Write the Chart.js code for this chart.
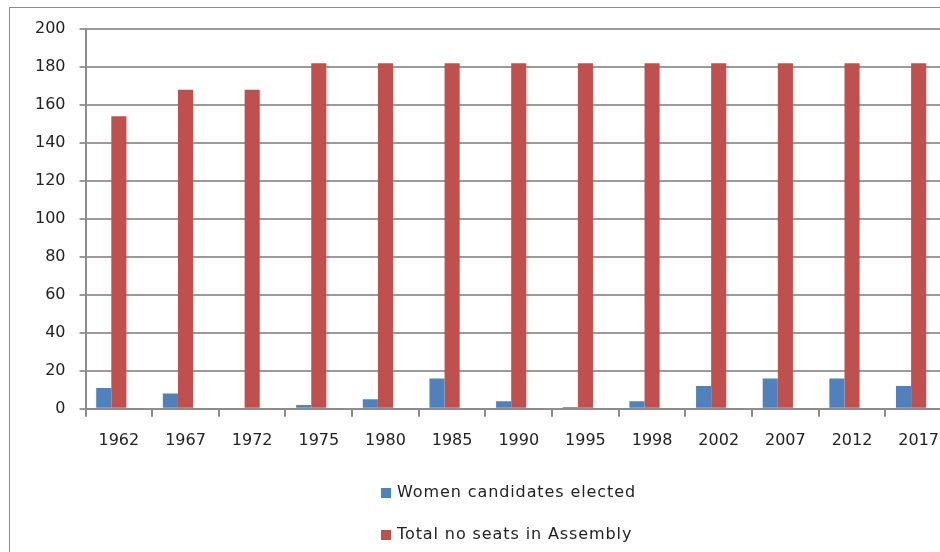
<!DOCTYPE html>
<html>
<head>
<meta charset="utf-8">
<script src="https://cdn.jsdelivr.net/npm/chart.js@4/dist/chart.umd.min.js"></script>
<style>
  html, body { margin: 0; padding: 0; background: #fff; overflow: hidden; }
  #wrap { position: relative; width: 940px; height: 552px; overflow: hidden; }
  #frame { position: absolute; left: 9px; top: 7px; width: 1000px; height: 600px; border: 1px solid #8c8c8c; }
  #box { position: absolute; left: 0; top: 0; width: 962px; height: 552px; }
</style>
</head>
<body>
<div id="wrap">
  <div id="frame"></div>
  <div id="box"><canvas id="c"></canvas></div>
</div>
<script>
const years = ['1962', '1967', '1972', '1975', '1980', '1985', '1990', '1995', '1998', '2002', '2007', '2012', '2017'];
const womenElected = [11, 8, 0, 2, 5, 16, 4, 1, 4, 12, 16, 16, 12];
const totalSeats = [154, 168, 168, 182, 182, 182, 182, 182, 182, 182, 182, 182, 182];
const yTicks = [0, 20, 40, 60, 80, 100, 120, 140, 160, 180, 200];

const FONT = 'DejaVu Sans';

// legend drawn as two stacked rows under the plot
const stackedLegend = {
  id: 'stackedLegend',
  afterDraw(chart) {
    const ctx = chart.ctx;
    const items = chart.data.datasets.filter(d => d.label);
    ctx.save();
    ctx.font = '16px ' + FONT;
    ctx.letterSpacing = '0.9px';
    ctx.textBaseline = 'middle';
    items.forEach((d, i) => {
      const y = 493 + i * 42;
      ctx.fillStyle = d.backgroundColor;
      ctx.fillRect(381, y - 5, 10, 10);
      ctx.fillStyle = '#222';
      ctx.fillText(d.label, 397, y);
    });
    ctx.restore();
  }
};

new Chart(document.getElementById('c'), {
  type: 'bar',
  data: {
    labels: years,
    datasets: [
      { label: 'Women candidates elected', data: womenElected, backgroundColor: '#4F81BD' },
      { label: 'Total no seats in Assembly', data: totalSeats, backgroundColor: '#C0504D' },
      // empty slot so the pair sits left of the category centre, as in the original
      { label: '', data: years.map(() => null), backgroundColor: 'rgba(0,0,0,0)' }
    ]
  },
  options: {
    responsive: true,
    maintainAspectRatio: false,
    animation: false,
    datasets: { bar: { categoryPercentage: 0.68, barPercentage: 1.0 } },
    layout: { padding: { top: 29, left: 21, right: 10, bottom: 88 } },
    plugins: {
      legend: { display: false },
      tooltip: { enabled: false }
    },
    scales: {
      x: {
        offset: true,
        grid: { display: true, drawOnChartArea: false, drawTicks: true, tickLength: 8, color: '#8c8c8c', lineWidth: 2, offset: true },
        border: { display: true, color: '#8c8c8c', width: 2 },
        ticks: { color: '#222', font: { family: FONT, size: 16 }, padding: 14, maxRotation: 0, autoSkip: false }
      },
      y: {
        min: 0,
        max: 200,
        afterBuildTicks: (axis) => { axis.ticks = yTicks.map(v => ({ value: v })); },
        grid: { color: '#9a9a9a', lineWidth: 2, drawTicks: true, tickLength: 6 },
        border: { display: true, color: '#8c8c8c', width: 2 },
        ticks: { color: '#222', font: { family: FONT, size: 16 }, padding: 14 }
      }
    }
  },
  plugins: [stackedLegend]
});
</script>
</body>
</html>
